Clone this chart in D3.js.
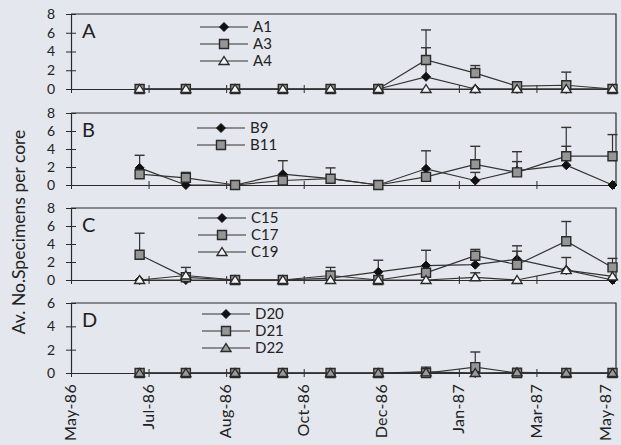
<!DOCTYPE html>
<html>
<head>
<meta charset="utf-8">
<script src="https://cdn.jsdelivr.net/npm/d3@7"></script>
<style>
body { margin: 0; background: #e4e7ed; }
text { font-family: Lato, "Open Sans", sans-serif; fill: #222; }
</style>
</head>
<body>
<div id="chart"></div>
<script>
const WIDTH = 621;
const HEIGHT = 445;

// sampling dates (about monthly) and the axis tick dates
const sampleDates = ["1986-06-25", "1986-07-26", "1986-08-28", "1986-09-29", "1986-10-31", "1986-12-02",
    "1987-01-03", "1987-02-05", "1987-03-05", "1987-04-07", "1987-05-08"];
const tickDates = ["1986-05-10", "1986-07-01", "1986-08-22", "1986-10-13", "1986-12-04",
    "1987-01-25", "1987-03-18", "1987-05-09"];

// values (mean, upper error)
const A1 = [0, 0, 0, 0, 0, 0, 1.3, 0, 0, 0, 0];
const A1err = [0, 0, 0, 0, 0, 0, 3.1, 0, 0, 0, 0];
const A3 = [0, 0, 0, 0, 0, 0, 3.1, 1.7, 0.3, 0.4, 0];
const A3err = [0, 0, 0, 0, 0, 0, 3.2, 0.8, 0.2, 1.4, 0];
const A4 = [0, 0, 0, 0, 0, 0, 0, 0, 0, 0, 0];
const A4err = [0, 0, 0, 0, 0, 0, 0, 0, 0, 0, 0];

const B9 = [1.9, 0, 0, 1.2, 0.7, 0, 1.8, 0.5, 1.6, 2.2, 0];
const B9err = [1.4, 0, 0, 1.5, 0, 0, 2.0, 0.9, 1.0, 2.1, 0];
const B11 = [1.2, 0.8, 0, 0.5, 0.7, 0, 0.9, 2.3, 1.4, 3.2, 3.2];
const B11err = [0, 0.6, 0, 0, 1.2, 0, 0, 2.0, 2.3, 3.2, 2.4];

const C15 = [0, 0, 0, 0, 0.2, 0.9, 1.6, 1.7, 2.3, 1.1, 0];
const C15err = [0, 0, 0, 0, 0, 1.3, 1.7, 0, 0.9, 0, 0];
const C17 = [2.8, 0.3, 0, 0, 0.5, 0, 0.8, 2.7, 1.7, 4.3, 1.4];
const C17err = [2.4, 0, 0, 0, 0.9, 0, 0, 0.7, 2.1, 2.2, 1.0];
const C19 = [0, 0.5, 0, 0, 0, 0, 0, 0.3, 0, 1.1, 0.4];
const C19err = [0, 0.9, 0, 0, 0, 0, 0, 0.5, 0, 1.4, 0];

const D20 = [0, 0, 0, 0, 0, 0, 0.1, 0, 0, 0, 0];
const D20err = [0, 0, 0, 0, 0, 0, 0.4, 0, 0, 0, 0];
const D21 = [0, 0, 0, 0, 0, 0, 0, 0.5, 0, 0, 0];
const D21err = [0, 0, 0, 0, 0, 0, 0, 1.3, 0, 0, 0];
const D22 = [0, 0, 0, 0, 0, 0, 0.05, 0, 0.05, 0, 0];
const D22err = [0, 0, 0, 0, 0, 0, 0, 0, 0.35, 0, 0];

const yTicks8 = [0, 2, 4, 6, 8];
const yTicks6 = [0, 2, 4, 6];

const parse = d3.timeParse("%Y-%m-%d");
const dates = sampleDates.map(parse);
const ticks = tickDates.map(parse);

const LEFT = 71, RIGHT = 616;
const x = d3.scaleTime()
    .domain([ticks[0], ticks[ticks.length - 1]])
    .range([LEFT, 614]);

const panels = [
    { letter: "A", top: 14, bottom: 89, max: 8, yTicks: yTicks8, legendX: 200, legendY: 27,
      series: [
        { name: "A1", values: A1, err: A1err, marker: "diamond" },
        { name: "A3", values: A3, err: A3err, marker: "square" },
        { name: "A4", values: A4, err: A4err, marker: "triangle" }] },
    { letter: "B", top: 113, bottom: 185, max: 8, yTicks: yTicks8, legendX: 197, legendY: 128,
      series: [
        { name: "B9", values: B9, err: B9err, marker: "diamond" },
        { name: "B11", values: B11, err: B11err, marker: "square" }] },
    { letter: "C", top: 208, bottom: 280, max: 8, yTicks: yTicks8, legendX: 198, legendY: 218,
      series: [
        { name: "C15", values: C15, err: C15err, marker: "diamond" },
        { name: "C17", values: C17, err: C17err, marker: "square" },
        { name: "C19", values: C19, err: C19err, marker: "triangle" }] },
    { letter: "D", top: 303, bottom: 373, max: 6, yTicks: yTicks6, legendX: 202, legendY: 314,
      series: [
        { name: "D20", values: D20, err: D20err, marker: "diamond" },
        { name: "D21", values: D21, err: D21err, marker: "square" },
        { name: "D22", values: D22, err: D22err, marker: "triangleGrey" }] }
];

const INK = "#2a2a2a";
const FONT = "Lato, 'Open Sans', sans-serif";

const svg = d3.select("#chart")
    .append("svg")
    .attr("width", WIDTH)
    .attr("height", HEIGHT)
    .style("background", "#e4e7ed");

function drawMarker(g, type, cx, cy) {
    if (type === "diamond") {
        g.append("path")
            .attr("d", "M0,-4.5L4.5,0L0,4.5L-4.5,0Z")
            .attr("transform", `translate(${cx},${cy})`)
            .attr("fill", "#111").attr("stroke", "#111");
    } else if (type === "square") {
        g.append("path")
            .attr("d", "M-4.5,-4.5H4.5V4.5H-4.5Z")
            .attr("transform", `translate(${cx},${cy})`)
            .attr("fill", "#959595").attr("stroke", INK).attr("stroke-width", 1.4);
    } else {
        g.append("path")
            .attr("d", "M0,-4.5L5,3.5H-5Z")
            .attr("transform", `translate(${cx},${cy})`)
            .attr("fill", type === "triangleGrey" ? "#9a9a9a" : "#f4f5f7")
            .attr("stroke", INK).attr("stroke-width", 1.4);
    }
}

panels.forEach((p, pi) => {
    const y = d3.scaleLinear().domain([0, p.max]).range([p.bottom, p.top]);
    const g = svg.append("g");

    // plot frame (top + right)
    g.append("path")
        .attr("d", `M${LEFT},${p.top}H${RIGHT}V${p.bottom}`)
        .attr("fill", "none").attr("stroke", INK).attr("stroke-width", 1.2);

    // y axis
    const yAxis = g.append("g")
        .attr("transform", `translate(${LEFT},0)`)
        .call(d3.axisLeft(y).tickValues(p.yTicks).tickFormat(d3.format("d"))
            .tickSizeOuter(0).tickSizeInner(5).tickPadding(11));
    yAxis.select(".domain").attr("stroke", INK).attr("stroke-width", 1.2);
    yAxis.selectAll(".tick line").attr("x1", 5).attr("x2", -5).attr("stroke", INK);
    yAxis.selectAll(".tick text")
        .style("font-family", FONT)
        .style("font-size", "14px").attr("fill", "#222");

    // x axis at zero
    const isLast = pi === panels.length - 1;
    const xAxis = g.append("g")
        .attr("transform", `translate(0,${p.bottom})`)
        .call(d3.axisBottom(x).tickValues(ticks).tickSizeOuter(0).tickSizeInner(4)
            .tickFormat(isLast ? d3.timeFormat("%b-%y") : () => ""));
    xAxis.select(".domain").attr("stroke", INK).attr("stroke-width", 1.2);
    xAxis.selectAll(".tick line").attr("y1", -4).attr("y2", 4).attr("stroke", INK);
    if (isLast) {
        // keep the last label inside the picture, as in the original
        xAxis.selectAll(".tick text")
            .style("font-family", FONT)
            .style("font-size", "16px")
            .style("letter-spacing", "0.3px")
            .attr("fill", "#222")
            .attr("text-anchor", "end")
            .attr("transform", d => `translate(${Math.min(0, 606 - x(d))},11) rotate(-90)`)
            .attr("x", 0).attr("y", 0).attr("dy", "0.3em");
    }

    // series
    const line = d3.line()
        .x((d, i) => x(dates[i]))
        .y(d => y(d));

    p.series.forEach(s => {
        const sg = g.append("g");
        sg.append("path")
            .datum(s.values)
            .attr("d", line)
            .attr("fill", "none")
            .attr("stroke", "#333")
            .attr("stroke-width", 1.2);

        s.values.forEach((v, i) => {
            const e = s.err[i];
            if (e > 0) {
                const cx = x(dates[i]);
                sg.append("line")
                    .attr("x1", cx).attr("x2", cx)
                    .attr("y1", y(v)).attr("y2", y(v + e))
                    .attr("stroke", "#333").attr("stroke-width", 1.2);
                sg.append("line")
                    .attr("x1", cx - 5).attr("x2", cx + 5)
                    .attr("y1", y(v + e)).attr("y2", y(v + e))
                    .attr("stroke", "#333").attr("stroke-width", 1.4);
            }
        });
        s.values.forEach((v, i) => drawMarker(sg, s.marker, x(dates[i]), y(v)));
    });

    // panel letter
    g.append("text")
        .attr("x", 82).attr("y", p.top + 24)
        .style("font-size", "20px")
        .text(p.letter);

    // legend
    p.series.forEach((s, i) => {
        const ly = p.legendY + i * 17;
        g.append("line")
            .attr("x1", p.legendX).attr("x2", p.legendX + 48)
            .attr("y1", ly).attr("y2", ly)
            .attr("stroke", "#333").attr("stroke-width", 1.2);
        drawMarker(g, s.marker, p.legendX + 24, ly);
        g.append("text")
            .attr("x", p.legendX + 53).attr("y", ly)
            .attr("dy", "0.35em")
            .style("font-size", "15px")
            .text(s.name);
    });
});

// y axis title
svg.append("text")
    .attr("transform", "translate(25,232) rotate(-90)")
    .attr("text-anchor", "middle")
    .style("font-size", "17.5px")
    .text("Av. No.Specimens per core");
</script>
</body>
</html>
